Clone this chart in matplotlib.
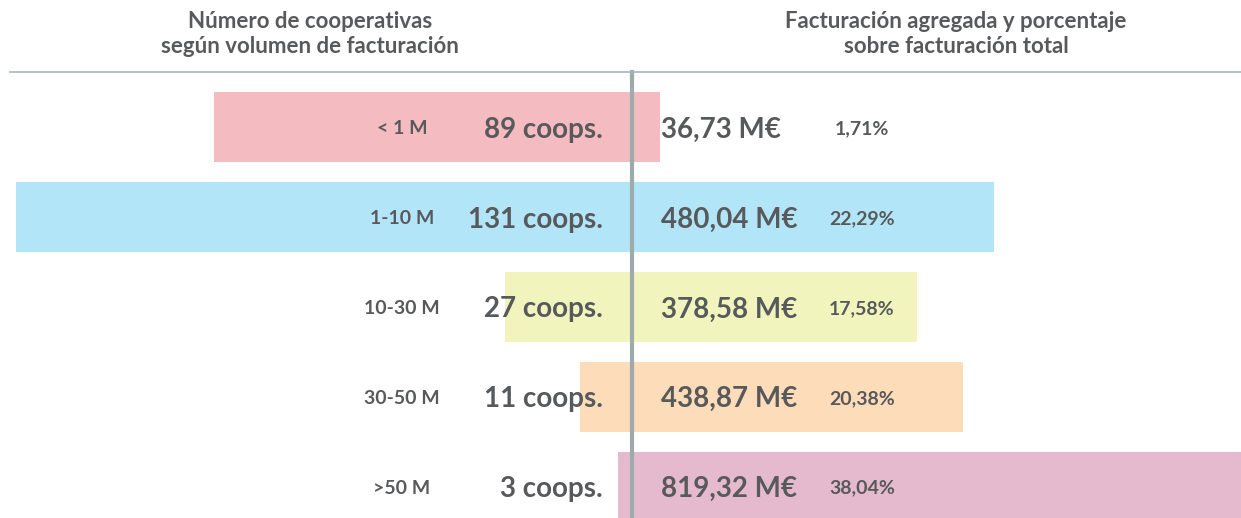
import matplotlib.pyplot as plt
import matplotlib.transforms as mtransforms
from matplotlib.lines import Line2D

plt.rcParams['font.family'] = ['Lato', 'DejaVu Sans']

# Datos
categorias = ['< 1 M', '1-10 M', '10-30 M', '30-50 M', '>50 M']
cooperativas = [89, 131, 27, 11, 3]
facturacion = [36.73, 480.04, 378.58, 438.87, 819.32]
porcentaje = [1.71, 22.29, 17.58, 20.38, 38.04]
colores = ['#f4bbc0', '#b3e5f8', '#f1f5bd', '#fcdcb9', '#e5bacf']

gris = '#58595b'
W, H = 1241, 518
centro = 632
top = 72

fig = plt.figure(figsize=(W / 100, H / 100), dpi=100)
alto = (H - top) / H
ax_l = fig.add_axes([0, 0, centro / W, alto])
ax_r = fig.add_axes([centro / W, 0, (W - centro) / W, alto])

y = list(range(len(categorias)))
ax_l.barh(y, cooperativas, height=0.78, color=colores, zorder=2)
ax_r.barh(y, facturacion, height=0.78, color=colores, zorder=2)

ax_l.set_xlim(134.5, 0)
ax_r.set_xlim(0, 807.7)
for ax in (ax_l, ax_r):
    ax.set_ylim(4.35, -0.617)
    ax.axis('off')

# Línea central
ax_r.axvline(0, color='#9eabad', lw=3, zorder=3, clip_on=False)

# Línea de cabecera
fig.add_artist(Line2D([10 / W, 1], [alto, alto], color='#aab5b7', lw=1.2))

# Cabeceras
fig.text(310 / W, 1 - 34 / H, 'Número de cooperativas\nsegún volumen de facturación',
         ha='center', va='center', fontsize=16, fontweight='bold', color=gris,
         linespacing=1.25)
fig.text(956 / W, 1 - 34 / H, 'Facturación agregada y porcentaje\nsobre facturación total',
         ha='center', va='center', fontsize=16, fontweight='bold', color=gris,
         linespacing=1.25)

# Etiquetas
tr_l = mtransforms.blended_transform_factory(fig.transFigure, ax_l.transData)
tr_r = mtransforms.blended_transform_factory(fig.transFigure, ax_r.transData)
for i in y:
    ax_l.text(402 / W, i, categorias[i], transform=tr_l, ha='center', va='center_baseline',
              fontsize=14, fontweight='bold', color=gris, zorder=4)
    ax_l.text(603 / W, i, f'{cooperativas[i]} coops.', transform=tr_l, ha='right',
              va='center_baseline', fontsize=20, fontweight='bold', color=gris, zorder=4)
    ax_r.text(661 / W, i, f'{facturacion[i]:.2f} M€'.replace('.', ','), transform=tr_r,
              ha='left', va='center_baseline', fontsize=20, fontweight='bold', color=gris,
              zorder=4)
    ax_r.text(862 / W, i, f'{porcentaje[i]:.2f}%'.replace('.', ','), transform=tr_r,
              ha='center', va='center_baseline', fontsize=14, fontweight='bold', color=gris,
              zorder=4)

plt.savefig('out.png', dpi=100)
